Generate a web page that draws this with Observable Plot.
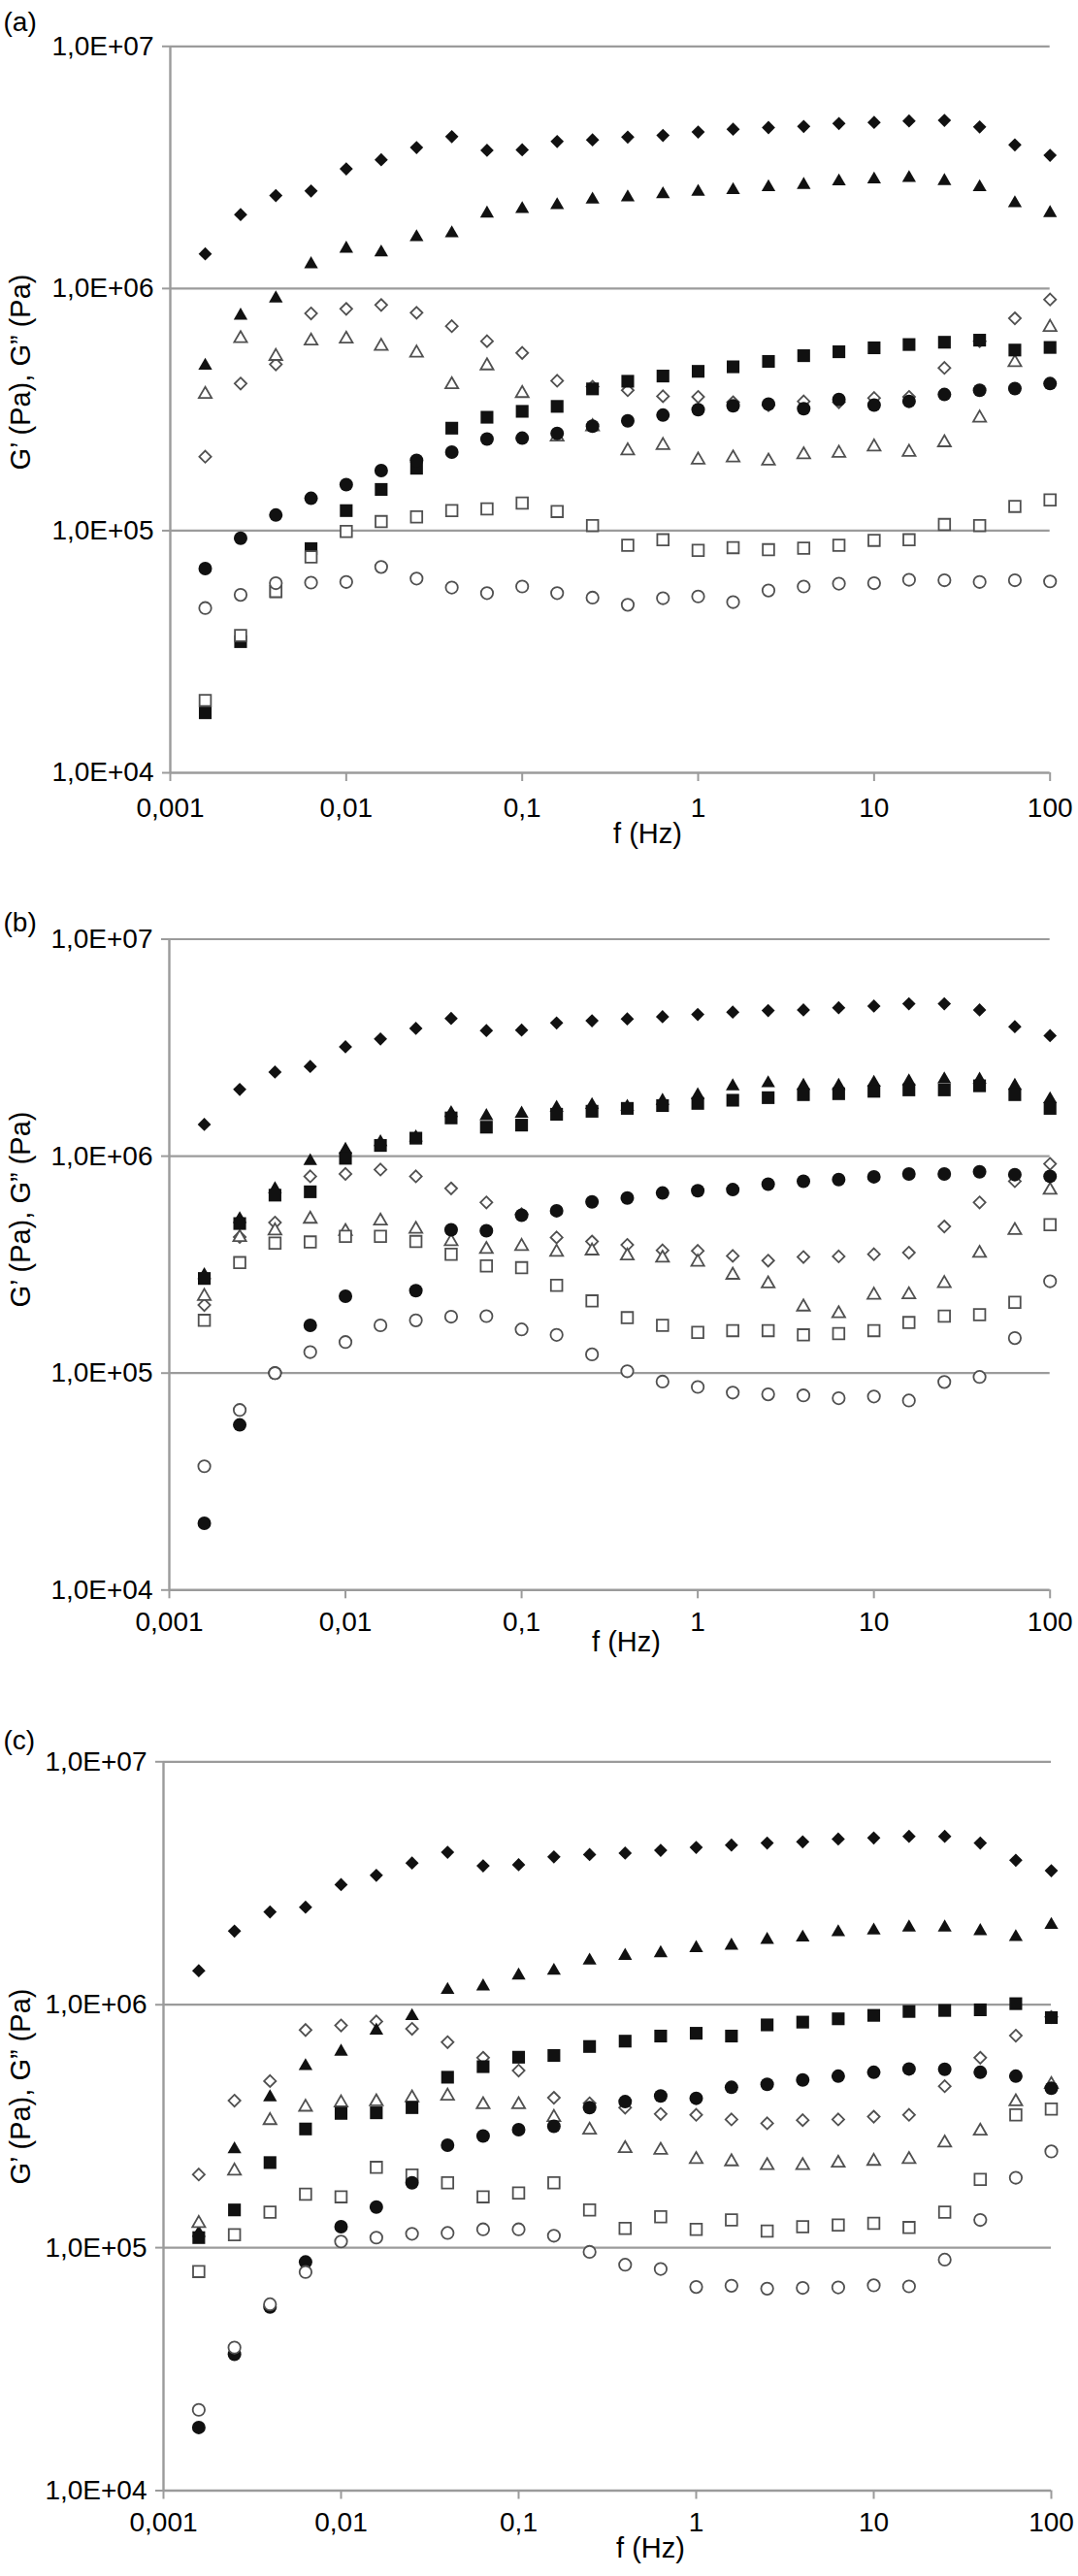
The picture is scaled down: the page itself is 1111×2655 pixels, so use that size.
<!DOCTYPE html>
<html>
<head>
<meta charset="utf-8">
<script src="https://cdn.jsdelivr.net/npm/d3@7"></script>
<script src="https://cdn.jsdelivr.net/npm/@observablehq/plot@0.6"></script>
<style>
  html, body { margin: 0; padding: 0; background: #ffffff; }
  #chart svg { display: block; }
</style>
</head>
<body>
<div id="chart"></div>
<script>
// ---------- shared axes ----------
const freq = [0.00158, 0.00251, 0.00398, 0.00631, 0.01, 0.0158, 0.0251, 0.0398, 0.0631, 0.1,
              0.158, 0.251, 0.398, 0.631, 1, 1.58, 2.51, 3.98, 6.31, 10,
              15.8, 25.1, 39.8, 63.1, 100];
const xTicks = [0.001, 0.01, 0.1, 1, 10, 100];
const xTickLabels = ["0,001", "0,01", "0,1", "1", "10", "100"];
const yTicks = [1e4, 1e5, 1e6, 1e7];
const yTickLabels = ["1,0E+04", "1,0E+05", "1,0E+06", "1,0E+07"];
const xTitle = "f (Hz)";
const yTitle = "G’ (Pa), G” (Pa)";
const panelLabels = ["(a)", "(b)", "(c)"];

// ---------- panel (a) ----------
const aFilledDiamond = [1.39e6,2.02e6,2.42e6,2.53e6,3.12e6,3.40e6,3.82e6,4.24e6,3.72e6,3.74e6,4.05e6,4.11e6,4.22e6,4.29e6,4.43e6,4.55e6,4.62e6,4.67e6,4.80e6,4.85e6,4.92e6,4.95e6,4.65e6,3.92e6,3.55e6];
const aOpenDiamond   = [2.02e5,4.05e5,4.86e5,7.89e5,8.24e5,8.55e5,7.94e5,6.99e5,6.06e5,5.42e5,4.16e5,3.93e5,3.80e5,3.59e5,3.57e5,3.39e5,3.30e5,3.42e5,3.39e5,3.53e5,3.57e5,4.70e5,6.06e5,7.53e5,9.01e5];
const aFilledTriangle= [4.80e5,7.73e5,9.10e5,1.26e6,1.46e6,1.41e6,1.63e6,1.69e6,2.04e6,2.13e6,2.21e6,2.33e6,2.38e6,2.45e6,2.51e6,2.55e6,2.62e6,2.68e6,2.77e6,2.82e6,2.86e6,2.78e6,2.62e6,2.25e6,2.05e6];
const aOpenTriangle  = [3.66e5,6.22e5,5.25e5,6.08e5,6.19e5,5.78e5,5.42e5,4.01e5,4.80e5,3.69e5,2.44e5,2.69e5,2.14e5,2.25e5,1.96e5,2.00e5,1.94e5,2.06e5,2.09e5,2.22e5,2.11e5,2.31e5,2.92e5,4.95e5,6.92e5];
const aFilledSquare  = [1.77e4,3.48e4,5.60e4,8.43e4,1.21e5,1.48e5,1.81e5,2.65e5,2.94e5,3.11e5,3.26e5,3.85e5,4.14e5,4.35e5,4.55e5,4.75e5,5.00e5,5.28e5,5.48e5,5.69e5,5.87e5,6.00e5,6.12e5,5.57e5,5.71e5];
const aOpenSquare    = [1.99e4,3.69e4,5.61e4,7.79e4,9.93e4,1.09e5,1.14e5,1.21e5,1.23e5,1.30e5,1.20e5,1.05e5,8.70e4,9.17e4,8.29e4,8.51e4,8.34e4,8.47e4,8.70e4,9.12e4,9.17e4,1.06e5,1.05e5,1.26e5,1.34e5];
const aFilledCircle  = [6.97e4,9.31e4,1.16e5,1.36e5,1.55e5,1.77e5,1.95e5,2.11e5,2.39e5,2.41e5,2.52e5,2.70e5,2.84e5,3.00e5,3.16e5,3.28e5,3.33e5,3.19e5,3.48e5,3.30e5,3.42e5,3.65e5,3.80e5,3.86e5,4.05e5];
const aOpenCircle    = [4.79e4,5.43e4,6.07e4,6.10e4,6.14e4,7.08e4,6.34e4,5.82e4,5.52e4,5.88e4,5.52e4,5.29e4,4.94e4,5.26e4,5.35e4,5.07e4,5.66e4,5.88e4,6.04e4,6.07e4,6.27e4,6.24e4,6.14e4,6.24e4,6.17e4];

// ---------- panel (b) ----------
const bFilledDiamond = [1.40e6,2.03e6,2.44e6,2.59e6,3.19e6,3.47e6,3.88e6,4.31e6,3.79e6,3.81e6,4.11e6,4.21e6,4.29e6,4.39e6,4.50e6,4.61e6,4.69e6,4.72e6,4.83e6,4.92e6,5.04e6,5.04e6,4.72e6,3.95e6,3.59e6];
const bOpenDiamond   = [2.06e5,4.24e5,4.94e5,8.07e5,8.28e5,8.67e5,8.07e5,7.10e5,6.12e5,5.40e5,4.22e5,4.04e5,3.90e5,3.68e5,3.66e5,3.47e5,3.30e5,3.43e5,3.45e5,3.53e5,3.59e5,4.74e5,6.12e5,7.66e5,9.21e5];
const bFilledTriangle= [2.83e5,5.13e5,7.05e5,9.49e5,1.07e6,1.16e6,1.22e6,1.58e6,1.53e6,1.57e6,1.67e6,1.72e6,1.69e6,1.80e6,1.91e6,2.10e6,2.17e6,2.11e6,2.11e6,2.18e6,2.21e6,2.26e6,2.25e6,2.11e6,1.83e6];
const bOpenTriangle  = [2.26e5,4.22e5,4.53e5,5.13e5,4.50e5,5.03e5,4.61e5,4.04e5,3.72e5,3.84e5,3.61e5,3.66e5,3.47e5,3.39e5,3.25e5,2.83e5,2.58e5,2.02e5,1.88e5,2.29e5,2.30e5,2.59e5,3.57e5,4.55e5,6.97e5];
const bFilledSquare  = [2.73e5,4.89e5,6.61e5,6.85e5,9.77e5,1.12e6,1.21e6,1.50e6,1.36e6,1.39e6,1.56e6,1.61e6,1.66e6,1.71e6,1.75e6,1.81e6,1.86e6,1.92e6,1.94e6,1.99e6,2.02e6,2.02e6,2.11e6,1.92e6,1.66e6];
const bOpenSquare    = [1.75e5,3.23e5,3.97e5,4.02e5,4.27e5,4.27e5,4.04e5,3.53e5,3.12e5,3.06e5,2.54e5,2.15e5,1.80e5,1.66e5,1.54e5,1.57e5,1.57e5,1.50e5,1.52e5,1.57e5,1.71e5,1.83e5,1.86e5,2.12e5,4.83e5];
const bFilledCircle  = [2.03e4,5.77e4,1.00e5,1.66e5,2.26e5,null,2.40e5,4.58e5,4.53e5,5.34e5,5.60e5,6.15e5,6.41e5,6.76e5,6.93e5,7.01e5,7.43e5,7.66e5,7.80e5,8.03e5,8.28e5,8.28e5,8.47e5,8.22e5,8.07e5];
const bOpenCircle    = [3.72e4,6.76e4,1.00e5,1.25e5,1.39e5,1.66e5,1.75e5,1.82e5,1.83e5,1.59e5,1.50e5,1.22e5,1.02e5,9.14e4,8.63e4,8.13e4,7.98e4,7.89e4,7.66e4,7.80e4,7.48e4,9.10e4,9.60e4,1.45e5,2.65e5];

// ---------- panel (c) ----------
const cFilledDiamond = [1.38e6,2.01e6,2.41e6,2.52e6,3.12e6,3.41e6,3.83e6,4.24e6,3.73e6,3.77e6,4.06e6,4.15e6,4.21e6,4.32e6,4.44e6,4.54e6,4.63e6,4.68e6,4.81e6,4.86e6,4.93e6,4.93e6,4.63e6,3.93e6,3.56e6];
const cOpenDiamond   = [2.00e5,4.03e5,4.85e5,7.87e5,8.22e5,8.53e5,7.96e5,7.01e5,6.05e5,5.36e5,4.14e5,3.93e5,3.77e5,3.55e5,3.52e5,3.37e5,3.25e5,3.35e5,3.37e5,3.46e5,3.52e5,4.62e5,6.05e5,7.46e5,8.90e5];
const cFilledTriangle= [1.15e5,2.54e5,4.16e5,5.59e5,6.41e5,7.83e5,8.98e5,1.15e6,1.19e6,1.32e6,1.38e6,1.52e6,1.59e6,1.63e6,1.71e6,1.75e6,1.85e6,1.89e6,1.99e6,2.02e6,2.08e6,2.08e6,2.01e6,1.90e6,2.13e6];
const cOpenTriangle  = [1.26e5,2.07e5,3.34e5,3.79e5,3.95e5,3.99e5,4.14e5,4.21e5,3.88e5,3.88e5,3.44e5,3.05e5,2.56e5,2.52e5,2.31e5,2.26e5,2.18e5,2.18e5,2.23e5,2.27e5,2.31e5,2.70e5,3.02e5,3.99e5,4.70e5];
const cFilledSquare  = [1.10e5,1.43e5,2.24e5,3.08e5,3.57e5,3.59e5,3.77e5,5.03e5,5.56e5,6.08e5,6.18e5,6.73e5,7.08e5,7.43e5,7.63e5,7.43e5,8.26e5,8.48e5,8.75e5,9.04e5,9.38e5,9.47e5,9.53e5,1.01e6,8.85e5];
const cOpenSquare    = [7.98e4,1.13e5,1.40e5,1.66e5,1.62e5,2.14e5,1.99e5,1.85e5,1.62e5,1.68e5,1.85e5,1.43e5,1.20e5,1.34e5,1.19e5,1.30e5,1.17e5,1.22e5,1.24e5,1.26e5,1.21e5,1.40e5,1.91e5,3.52e5,3.72e5];
const cFilledCircle  = [1.82e4,3.64e4,5.70e4,8.73e4,1.22e5,1.47e5,1.85e5,2.64e5,2.88e5,3.06e5,3.16e5,3.77e5,3.99e5,4.21e5,4.12e5,4.57e5,4.70e5,4.90e5,5.08e5,5.27e5,5.44e5,5.42e5,5.27e5,5.08e5,4.53e5];
const cOpenCircle    = [2.15e4,3.88e4,5.85e4,7.94e4,1.06e5,1.10e5,1.14e5,1.15e5,1.19e5,1.19e5,1.12e5,9.61e4,8.51e4,8.17e4,6.89e4,6.97e4,6.78e4,6.83e4,6.86e4,7.00e4,6.93e4,8.93e4,1.30e5,1.94e5,2.49e5];

// ---------- styling / layout ----------
const FONT = "'Liberation Sans', Arial, Helvetica, sans-serif";
const AXIS_GRAY = "#9b9b9b";
const OPEN_STROKE = "#505050";
const W = 1111;

const symbolStyle = {
  filledDiamond:  {symbol: "diamond2", r: 6.2, fill: "#111", stroke: "none"},
  openDiamond:    {symbol: "diamond2", r: 5.5, fill: "white", stroke: OPEN_STROKE, strokeWidth: 1.8},
  filledTriangle: {symbol: "triangle", r: 5.3, fill: "#111", stroke: "none"},
  openTriangle:   {symbol: "triangle", r: 4.9, fill: "white", stroke: OPEN_STROKE, strokeWidth: 1.8},
  filledSquare:   {symbol: "square",   r: 7.4, fill: "#111", stroke: "none"},
  openSquare:     {symbol: "square",   r: 6.6, fill: "white", stroke: OPEN_STROKE, strokeWidth: 1.8},
  filledCircle:   {symbol: "circle",   r: 7.0, fill: "#111", stroke: "none"},
  openCircle:     {symbol: "circle",   r: 6.2, fill: "white", stroke: OPEN_STROKE, strokeWidth: 1.8}
};

const panels = [
  { label: panelLabels[0], height: 900, top: 0,
    frame: {L: 175, R: 1081.7, T: 47.3, B: 796},
    yTitleAt: [21, 484], xTitleAt: [667, 868.7], labelY: 11.5, xPad: 17,
    series: {filledDiamond: aFilledDiamond, openDiamond: aOpenDiamond, filledTriangle: aFilledTriangle, openTriangle: aOpenTriangle,
             filledSquare: aFilledSquare, openSquare: aOpenSquare, filledCircle: aFilledCircle, openCircle: aOpenCircle} },
  { label: panelLabels[1], height: 880, top: 900,
    frame: {L: 174, R: 1081.7, T: 967.5, B: 1638.3},
    yTitleAt: [21, 1347], xTitleAt: [645, 1701], labelY: 940, xPad: 13.5,
    series: {filledDiamond: bFilledDiamond, openDiamond: bOpenDiamond, filledTriangle: bFilledTriangle, openTriangle: bOpenTriangle,
             filledSquare: bFilledSquare, openSquare: bOpenSquare, filledCircle: bFilledCircle, openCircle: bOpenCircle} },
  { label: panelLabels[2], height: 875, top: 1780,
    frame: {L: 168, R: 1083, T: 1815.3, B: 2566.5},
    yTitleAt: [21, 2251], xTitleAt: [670, 2635], labelY: 1783, xPad: 12.8,
    series: {filledDiamond: cFilledDiamond, openDiamond: cOpenDiamond, filledTriangle: cFilledTriangle, openTriangle: cOpenTriangle,
             filledSquare: cFilledSquare, openSquare: cOpenSquare, filledCircle: cFilledCircle, openCircle: cOpenCircle} }
];

const drawOrder = ["filledDiamond", "openDiamond", "filledTriangle", "openTriangle",
                   "filledSquare", "openSquare", "filledCircle", "openCircle"];

function makePanel(p) {
  const f = p.frame;
  const T = f.T - p.top, B = f.B - p.top;
  const mTop = T, mBottom = p.height - B, mLeft = f.L, mRight = W - f.R;
  const cx = (f.L + f.R) / 2, cy = (T + B) / 2;

  const marks = [
    Plot.ruleY(yTicks.slice(1), {stroke: AXIS_GRAY, strokeWidth: 2.2}),
    Plot.ruleY([yTicks[0]], {stroke: AXIS_GRAY, strokeWidth: 2.4}),
    Plot.ruleX([xTicks[0]], {stroke: AXIS_GRAY, strokeWidth: 2.4}),
    Plot.axisY({ticks: yTicks, tickFormat: d => yTickLabels[yTicks.indexOf(d)], tickSize: 8, tickPadding: 9,
                stroke: AXIS_GRAY, strokeWidth: 2, fill: "black", fontSize: 28, label: null}),
    Plot.axisX({ticks: xTicks, tickFormat: d => xTickLabels[xTicks.indexOf(d)], tickSize: 9, tickPadding: p.xPad,
                stroke: AXIS_GRAY, strokeWidth: 2, fill: "black", fontSize: 28, label: null})
  ];

  for (const key of drawOrder) {
    const vals = p.series[key];
    const data = freq.map((fq, i) => ({f: fq, v: vals[i]})).filter(d => d.v != null);
    marks.push(Plot.dot(data, {x: "f", y: "v", ...symbolStyle[key]}));
  }

  marks.push(Plot.text([p.label], {text: d => d, frameAnchor: "top-left", textAnchor: "start",
    dx: 3 - f.L, dy: (p.labelY - p.top) - T, fontSize: 28, fill: "black"}));
  marks.push(Plot.text([xTitle], {text: d => d, frameAnchor: "bottom",
    dx: p.xTitleAt[0] - cx, dy: (p.xTitleAt[1] - p.top) - B, fontSize: 29, fill: "black"}));
  marks.push(Plot.text([yTitle], {text: d => d, frameAnchor: "left", rotate: -90,
    dx: p.yTitleAt[0] - f.L, dy: (p.yTitleAt[1] - p.top) - cy, fontSize: 29, fill: "black"}));

  return Plot.plot({
    width: W, height: p.height,
    marginTop: mTop, marginBottom: mBottom, marginLeft: mLeft, marginRight: mRight,
    x: {type: "log", domain: [xTicks[0], xTicks[xTicks.length - 1]]},
    y: {type: "log", domain: [yTicks[0], yTicks[yTicks.length - 1]]},
    style: {fontFamily: FONT, background: "white", color: "black", overflow: "visible"},
    marks
  });
}

const host = document.getElementById("chart");
for (const p of panels) host.appendChild(makePanel(p));
</script>
</body>
</html>
